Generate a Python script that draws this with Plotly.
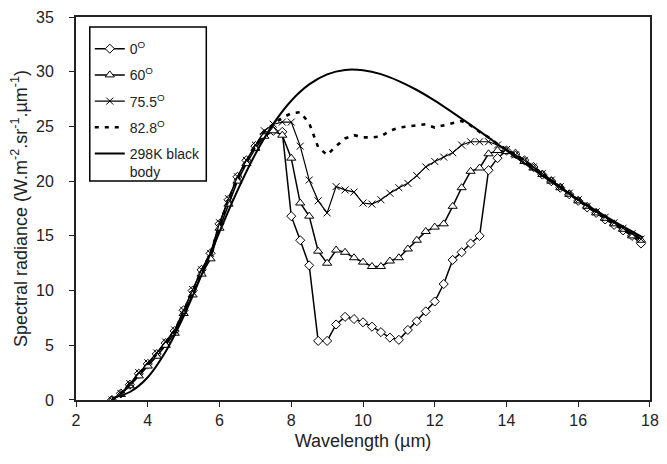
import plotly.graph_objects as go

wavelength = [3.0, 3.25, 3.5, 3.75, 4.0, 4.25, 4.5, 4.75, 5.0, 5.25, 5.5, 5.75, 6.0, 6.25, 6.5, 6.75,
              7.0, 7.25, 7.5, 7.75, 8.0, 8.25, 8.5, 8.75, 9.0, 9.25, 9.5, 9.75, 10.0, 10.25, 10.5, 10.75,
              11.0, 11.25, 11.5, 11.75, 12.0, 12.25, 12.5, 12.75, 13.0, 13.25, 13.5, 13.75, 14.0, 14.25,
              14.5, 14.75, 15.0, 15.25, 15.5, 15.75, 16.0, 16.25, 16.5, 16.75, 17.0, 17.25, 17.5, 17.75]

rad_0 = [0.0, 0.6, 1.4, 2.4, 3.3, 4.2, 5.2, 6.3, 8.2, 10.0, 11.9, 13.4, 16.1, 18.3, 20.4, 21.9, 23.2, 24.3, 24.6,
         24.5, 16.8, 14.6, 12.3, 5.4, 5.4, 6.9, 7.6, 7.4, 7.1, 6.7, 6.2, 5.7, 5.5, 6.4, 7.2, 8.1, 9.0, 10.6,
         12.8, 13.5, 14.3, 15.0, 21.0, 22.1, 22.8,
         22.5, 21.9, 21.3, 20.6, 20.0, 19.4, 18.8, 18.2, 17.6, 17.1, 16.5, 16.0, 15.5, 15.0, 14.3]

rad_60 = [0.0, 0.5, 1.3, 2.2, 3.1, 4.0, 5.0, 6.1, 7.9, 9.6, 11.5, 12.9, 15.7, 17.9, 20.0, 21.6, 23.0, 24.1, 24.6,
          24.2, 22.1, 18.0, 16.8, 13.6, 12.5, 13.7, 13.5, 13.0, 12.6, 12.2, 12.2, 12.7, 13.0, 13.8, 14.6, 15.4,
          15.8, 16.1, 17.7, 19.4, 20.9, 21.2, 22.5, 22.8, 22.7,
          22.4, 21.8, 21.2, 20.6, 20.0, 19.4, 18.8, 18.2, 17.7, 17.1, 16.6, 16.1, 15.6, 15.0, 14.6]

rad_755 = [0.0, 0.6, 1.5, 2.5, 3.4, 4.3, 5.3, 6.4, 8.2, 10.1, 11.9, 13.4, 16.2, 18.4, 20.4, 21.9, 23.3, 24.6, 25.2,
           25.4, 25.4, 23.2, 20.1, 18.2, 17.1, 19.5, 19.2, 19.0, 18.0, 17.9, 18.3, 18.9, 19.4, 19.8, 20.5, 21.3,
           21.8, 22.2, 22.6, 23.3, 23.6, 23.6, 23.6, 23.3, 22.9,
           22.4, 21.9, 21.3, 20.7, 20.1, 19.5, 18.9, 18.3, 17.7, 17.2, 16.7, 16.2, 15.7, 15.2, 14.7]

rad_828 = [0.0, 0.6, 1.4, 2.4, 3.3, 4.2, 5.2, 6.3, 8.1, 10.0, 11.8, 13.4, 16.0, 18.3, 20.3, 21.8, 23.1, 24.5, 25.2,
           25.8, 26.2, 26.3, 25.3, 23.1, 22.4, 23.2, 23.9, 24.2, 24.0, 24.0, 24.1, 24.6, 24.9, 25.0, 25.1, 25.2,
           24.9, 25.1, 25.3, 25.5, 25.1, 24.5, 24.0, 23.4, 22.9,
           22.4, 21.9, 21.3, 20.7, 20.1, 19.5, 18.9, 18.3, 17.8, 17.2, 16.7, 16.2, 15.7, 15.2, 14.8]

bb_wavelength = [3.0, 3.5, 4.0, 4.5, 5.0, 5.5, 6.0, 6.5, 7.0, 7.5, 8.0, 8.5, 9.0, 9.5, 10.0, 10.5, 11.0,
                 11.5, 12.0, 13.0, 14.0, 15.0, 16.0, 17.0, 17.8]
bb_radiance = [0.16, 0.73, 2.08, 4.43, 7.64, 11.43, 15.37, 19.14, 22.48, 25.23, 27.35, 28.84, 29.76, 30.16,
               30.13, 29.78, 29.14, 28.33, 27.36, 25.14, 22.8, 20.5, 18.32, 16.32, 14.87]

names = ["0<sup>O</sup>", "60<sup>O</sup>", "75.5<sup>O</sup>", "82.8<sup>O</sup>", "298K black<br>body"]
x_ticks = [2, 4, 6, 8, 10, 12, 14, 16, 18]
y_ticks = [0, 5, 10, 15, 20, 25, 30, 35]

fig = go.Figure()
fig.add_trace(go.Scatter(
    x=wavelength, y=rad_0, name=names[0], mode="lines+markers", legendgroup="a",
    line=dict(color="black", width=1.5),
    marker=dict(symbol="diamond", size=7, color="white", line=dict(color="black", width=1))))
fig.add_trace(go.Scatter(
    x=wavelength, y=rad_60, name=names[1], mode="lines+markers", legendgroup="b",
    line=dict(color="black", width=1.5),
    marker=dict(symbol="triangle-up", size=8, color="white", line=dict(color="black", width=1))))
fig.add_trace(go.Scatter(
    x=wavelength, y=rad_755, name=names[2], mode="lines+markers", legendgroup="c",
    line=dict(color="black", width=1.2),
    marker=dict(symbol="x-thin-open", size=7, color="black", line=dict(color="black", width=1))))
fig.add_trace(go.Scatter(
    x=wavelength, y=rad_828, name=names[3], mode="lines", legendgroup="d",
    line=dict(color="black", width=2.6, dash="4px,6px")))
fig.add_trace(go.Scatter(
    x=bb_wavelength, y=bb_radiance, name=names[4], mode="lines", legendgroup="e",
    line=dict(color="black", width=2, shape="spline")))

# legend frame
fig.add_shape(type="rect", xref="paper", yref="paper",
              x0=0.024, x1=0.227, y0=0.572, y1=0.974,
              line=dict(color="black", width=1.5), fillcolor="rgba(0,0,0,0)", layer="below")

fig.update_layout(
    width=659, height=456,
    margin=dict(l=68, r=17, t=9, b=64, autoexpand=False),
    paper_bgcolor="white", plot_bgcolor="white",
    font=dict(family="Liberation Sans, Arial, sans-serif", size=16, color="#222"),
    showlegend=True,
    legend=dict(x=0.024, y=0.958, xanchor="left", yanchor="top", valign="top",
                bgcolor="rgba(0,0,0,0)", borderwidth=0,
                font=dict(size=14, color="#222"), traceorder="grouped", tracegroupgap=5),
    xaxis=dict(range=[1.999, 18.001], tickvals=x_ticks, showgrid=False, zeroline=False,
               showline=True, linecolor="#222", linewidth=2, mirror=True,
               ticks="outside", ticklen=5, tickcolor="#222", tickfont=dict(size=16),
               automargin=False, ticklabeloverflow="allow",
               title=dict(text="Wavelength (µm)", font=dict(size=18), standoff=6)),
    yaxis=dict(range=[-0.001, 35.001], tickvals=y_ticks, showgrid=False, zeroline=False,
               showline=True, linecolor="#222", linewidth=2, mirror=True,
               ticks="outside", ticklen=5, tickcolor="#222", tickfont=dict(size=16),
               ticklabelstandoff=12, automargin=False, ticklabeloverflow="allow",
               title=dict(text="Spectral radiance (W.m<sup>-2</sup>.sr<sup>-1</sup>.µm<sup>-1</sup>)",
                          font=dict(size=18), standoff=8)),
)

fig.write_html("out.html")
